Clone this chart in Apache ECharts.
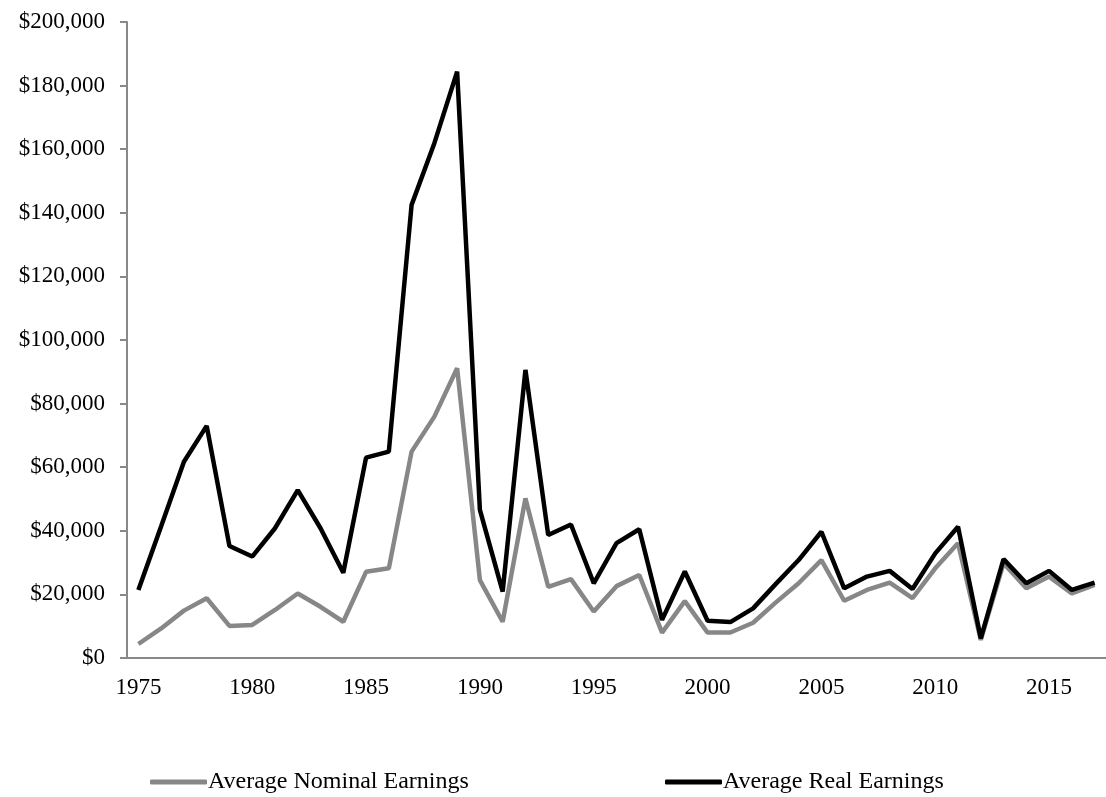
<!DOCTYPE html>
<html>
<head>
<meta charset="utf-8">
<script src="https://cdn.jsdelivr.net/npm/echarts@6/dist/echarts.min.js"></script>
<style>
  html, body { margin: 0; padding: 0; background: #fff; }
  #main { width: 1106px; height: 797px; }
</style>
</head>
<body>
<div id="main"></div>
<script>
var years = [];
for (var y = 1975; y <= 2017; y++) years.push(String(y));

var nominal = [4400, 9300, 14900, 18800, 10100, 10400, 15100, 20300, 16100, 11400,
    27100, 28200, 64900, 75900, 91100, 24500, 11400, 50200, 22400, 24800,
    14600, 22600, 26100, 8000, 17900, 8000, 8000, 11100, 17500, 23500,
    30800, 18000, 21400, 23700, 18800, 28200, 36100, 5700, 29800, 21900,
    25600, 20300, 23000];

var real = [21400, 41400, 61700, 73000, 35200, 31900, 40800, 52800, 40800, 26800,
    63000, 64900, 142500, 161900, 184400, 46600, 20900, 90600, 38700, 42000,
    23500, 36100, 40500, 12000, 27200, 11700, 11300, 15600, 23300, 30800,
    39700, 21900, 25600, 27400, 21700, 32900, 41300, 6200, 31100, 23500,
    27400, 21400, 23700];

var axisGray = '#898989';
var font = '"Liberation Serif", "Times New Roman", serif';

var dom = document.getElementById('main');
var myChart = echarts.init(dom);

myChart.setOption({
    animation: false,
    backgroundColor: '#fff',
    textStyle: { fontFamily: font, color: '#000' },
    grid: {
        left: 127,
        top: 22,
        width: 983,
        height: 636
    },
    legend: [{
        left: 145,
        top: 765,
        icon: 'roundRect',
        itemWidth: 57,
        itemHeight: 5,
        itemGap: 0,
        textStyle: { fontFamily: font, fontSize: 24, color: '#000', padding: [0, 0, 0, -4] },
        data: ['Average Nominal Earnings']
    }, {
        left: 660,
        top: 765,
        icon: 'roundRect',
        itemWidth: 57,
        itemHeight: 5,
        itemGap: 0,
        textStyle: { fontFamily: font, fontSize: 24, color: '#000', padding: [0, 0, 0, -4] },
        data: ['Average Real Earnings']
    }],
    xAxis: {
        type: 'category',
        data: years,
        boundaryGap: true,
        axisLine: { lineStyle: { color: axisGray, width: 2 } },
        axisTick: { interval: 0, length: 6, lineStyle: { color: axisGray, width: 2 } },
        axisLabel: {
            interval: 4,
            margin: 18,
            fontFamily: font,
            fontSize: 23,
            color: '#000'
        },
        splitLine: { show: false }
    },
    yAxis: {
        type: 'value',
        min: 0,
        max: 200000,
        interval: 20000,
        axisLine: { show: true, lineStyle: { color: axisGray, width: 2 } },
        axisTick: { show: true, length: 7, lineStyle: { color: axisGray, width: 2 } },
        axisLabel: {
            margin: 22,
            fontFamily: font,
            fontSize: 23,
            color: '#000',
            formatter: function (v) {
                return '$' + v.toString().replace(/(\d)(?=(\d{3})+$)/g, '$1,');
            }
        },
        splitLine: { show: false }
    },
    series: [{
        name: 'Average Nominal Earnings',
        type: 'line',
        data: nominal,
        symbol: 'none',
        color: '#878787',
        lineStyle: { width: 4.5, color: '#878787' }
    }, {
        name: 'Average Real Earnings',
        type: 'line',
        data: real,
        symbol: 'none',
        color: '#000',
        lineStyle: { width: 4.5, color: '#000' }
    }]
});

window.onresize = function () {
    myChart.resize();
};
</script>
</body>
</html>
